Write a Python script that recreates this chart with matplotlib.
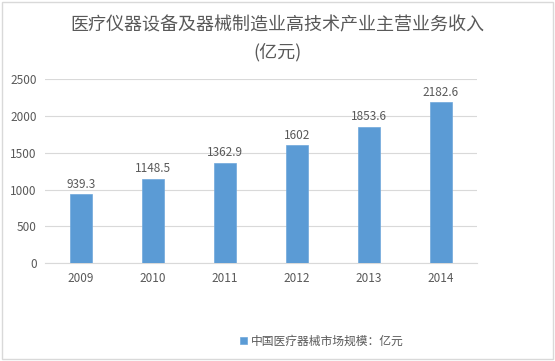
import matplotlib.pyplot as plt
from matplotlib.patches import Rectangle

plt.rcParams['font.family'] = ['Noto Sans CJK SC', 'DejaVu Sans']

years = ['2009', '2010', '2011', '2012', '2013', '2014']
revenue = [939.3, 1148.5, 1362.9, 1602, 1853.6, 2182.6]
value_labels = ['939.3', '1148.5', '1362.9', '1602', '1853.6', '2182.6']

txt = '#595959'
fig = plt.figure(figsize=(5.55, 3.61), dpi=100)
ax = fig.add_axes([0.081, 0.271, 0.778, 0.51])

x = range(len(years))
ax.bar(x, revenue, width=0.31, color='#5B9BD5', edgecolor='#6FA8DC', linewidth=0.5,
       label='中国医疗器械市场规模：亿元', zorder=3)
for i, v in enumerate(revenue):
    ax.text(i, v + 45, value_labels[i], ha='center', va='bottom', fontsize=8.5, color=txt)

ax.set_xlim(-0.5, len(years) - 0.5)
ax.set_ylim(0, 2500)
ax.set_yticks(range(0, 2501, 500))
ax.set_xticks(list(x))
ax.set_xticklabels(years)
ax.tick_params(axis='both', length=0, labelsize=8.5, colors=txt)
ax.tick_params(axis='y', pad=6)
ax.tick_params(axis='x', pad=6)
ax.grid(axis='y', color='#D9D9D9', linewidth=0.8, zorder=0)
for s in ['top', 'right', 'left']:
    ax.spines[s].set_visible(False)
ax.spines['bottom'].set_color('#D9D9D9')

fig.text(0.5, 0.93, '医疗仪器设备及器械制造业高技术产业主营业务收入', ha='center', va='center',
         fontsize=13, color=txt)
fig.text(0.5, 0.855, '(亿元)', ha='center', va='center', fontsize=13, color=txt)

fig.legend(loc='center', bbox_to_anchor=(0.58, 0.055), frameon=False, fontsize=8.5,
           labelcolor=txt, handlelength=0.6, handleheight=0.6, handletextpad=0.3)

fig.patches.append(Rectangle((0.004, 0.006), 0.992, 0.988, transform=fig.transFigure,
                             fill=False, edgecolor='#D9D9D9', linewidth=1))

fig.savefig('out.png', dpi=100)
